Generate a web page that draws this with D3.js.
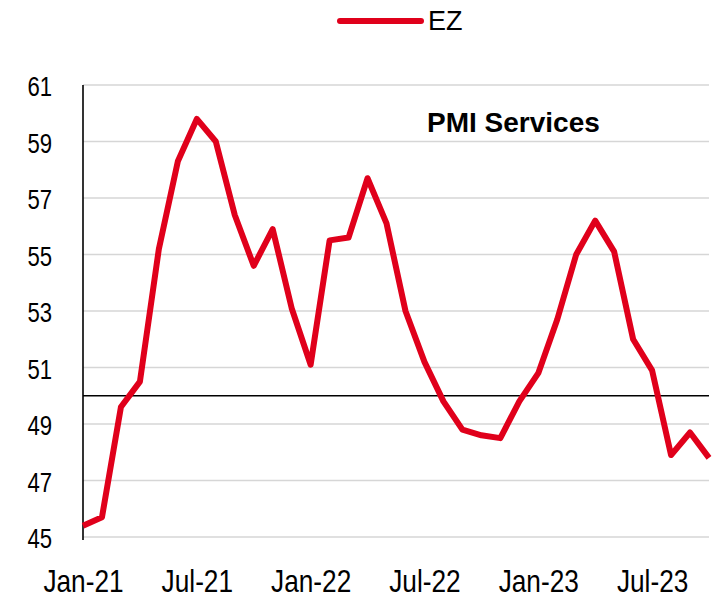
<!DOCTYPE html>
<html>
<head>
<meta charset="utf-8">
<script src="https://cdn.jsdelivr.net/npm/d3@7"></script>
<style>
  html, body { margin: 0; padding: 0; background: #fff; }
  svg { display: block; font-family: "Liberation Sans", Arial, sans-serif; }
</style>
</head>
<body>
<svg id="chart" width="718" height="598"></svg>
<script>
// monthly EZ services PMI, Jan-21 .. Oct-23
const months = [
  'Jan-21', 'Feb-21', 'Mar-21', 'Apr-21', 'May-21', 'Jun-21', 'Jul-21', 'Aug-21', 'Sep-21', 'Oct-21', 'Nov-21', 'Dec-21',
  'Jan-22', 'Feb-22', 'Mar-22', 'Apr-22', 'May-22', 'Jun-22', 'Jul-22', 'Aug-22', 'Sep-22', 'Oct-22', 'Nov-22', 'Dec-22',
  'Jan-23', 'Feb-23', 'Mar-23', 'Apr-23', 'May-23', 'Jun-23', 'Jul-23', 'Aug-23', 'Sep-23', 'Oct-23'
];
const ezValues = [
  45.4, 45.7, 49.6, 50.5, 55.2, 58.3, 59.8, 59.0, 56.4, 54.6, 55.9, 53.1,
  51.1, 55.5, 55.6, 57.7, 56.1, 53.0, 51.2, 49.8, 48.8, 48.6, 48.5, 49.8,
  50.8, 52.7, 55.0, 56.2, 55.1, 52.0, 50.9, 47.9, 48.7, 47.8
];
const xTickLabels = ['Jan-21', 'Jul-21', 'Jan-22', 'Jul-22', 'Jan-23', 'Jul-23'];
const yTicks = [45, 47, 49, 51, 53, 55, 57, 59, 61];
const threshold = 50;
const seriesName = 'EZ';
const chartTitle = 'PMI Services';

const plotLeft = 83, plotRight = 709, plotTop = 85, plotBottom = 537;
const narrow = 0.82; // squeeze the tick font like Arial Narrow
const red = '#e0001b';

const svg = d3.select('#chart');

const x = d3.scalePoint().domain(months).range([plotLeft, plotRight]);
const y = d3.scaleLinear().domain([45, 61]).range([plotBottom, plotTop]);

// gridlines
svg.append('g')
  .selectAll('line')
  .data(yTicks)
  .enter().append('line')
  .attr('x1', plotLeft)
  .attr('x2', plotRight)
  .attr('y1', d => y(d))
  .attr('y2', d => y(d))
  .attr('stroke', '#d6d6d6')
  .attr('stroke-width', 1.6);

// 50 line
svg.append('line')
  .attr('x1', plotLeft)
  .attr('x2', plotRight)
  .attr('y1', y(threshold))
  .attr('y2', y(threshold))
  .attr('stroke', '#000')
  .attr('stroke-width', 1.5);

// y axis
const yAxis = svg.append('g')
  .attr('transform', `translate(${plotLeft},0)`)
  .call(d3.axisLeft(y).tickValues(yTicks).tickSize(0).tickPadding(31).tickFormat(d3.format('d')));
yAxis.select('.domain')
  .attr('d', `M0,${plotTop}V${plotBottom + 3}`)
  .attr('stroke', '#000')
  .attr('stroke-width', 1.6);
yAxis.selectAll('text')
  .attr('font-size', 27)
  .attr('font-family', '"Liberation Sans", Arial, sans-serif')
  .attr('fill', '#000')
  .attr('dy', '0.4em')
  .attr('x', -31 / narrow)
  .attr('transform', `scale(${narrow},1)`);

// x axis
const xAxis = svg.append('g')
  .attr('transform', `translate(0,${plotBottom})`)
  .call(d3.axisBottom(x).tickValues(xTickLabels).tickSize(0).tickPadding(0));
xAxis.select('.domain').remove();
xAxis.selectAll('.tick').each(function () {
  const t = d3.select(this);
  const tx = +t.attr('transform').match(/translate\(([-\d.]+)/)[1];
  t.attr('transform', `translate(${tx},0) scale(${narrow},1)`);
});
xAxis.selectAll('text')
  .attr('font-size', 32)
  .attr('font-family', '"Liberation Sans", Arial, sans-serif')
  .attr('fill', '#000')
  .attr('y', 55)
  .attr('dy', 0);

// series line
const line = d3.line()
  .x((d, i) => x(months[i]))
  .y(d => y(d));

svg.append('path')
  .datum(ezValues)
  .attr('d', line)
  .attr('fill', 'none')
  .attr('stroke', red)
  .attr('stroke-width', 6)
  .attr('stroke-linejoin', 'round');

// title
svg.append('text')
  .attr('x', 427)
  .attr('y', 132)
  .attr('font-size', 28)
  .attr('font-weight', 'bold')
  .attr('fill', '#000')
  .text(chartTitle);

// legend
svg.append('line')
  .attr('x1', 340)
  .attr('x2', 421)
  .attr('y1', 21)
  .attr('y2', 21)
  .attr('stroke', red)
  .attr('stroke-width', 6)
  .attr('stroke-linecap', 'round');
svg.append('text')
  .attr('x', 428)
  .attr('y', 30)
  .attr('font-size', 27)
  .attr('fill', '#000')
  .text(seriesName);
</script>
</body>
</html>
